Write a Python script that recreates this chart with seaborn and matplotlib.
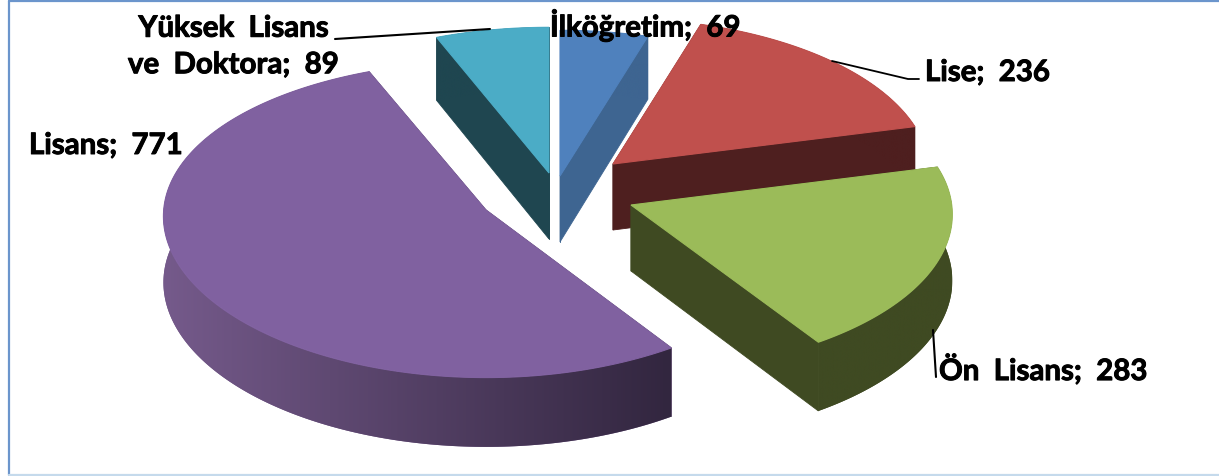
import numpy as np
import pandas as pd
import matplotlib
matplotlib.use("Agg")
import matplotlib.pyplot as plt
import matplotlib.patheffects as pe
from matplotlib.colors import LinearSegmentedColormap
import seaborn as sns

# chart data
categories = ["İlköğretim", "Lise", "Ön Lisans", "Lisans", "Yüksek Lisans\nve Doktora"]
values = [69, 236, 283, 771, 89]

# one row per slice: apex of the exploded slice, top colour, wall colours
df = pd.DataFrame({"category": categories, "value": values})
df["apex_x"] = [560, 613, 631, 486, 549]
df["apex_y"] = [177, 165, 206, 211, 174]
df["scale"] = [1.0, 1.0, 1.015, 1.02, 1.0]
df["persp_x"] = [0.06, 0.06, 0.06, 0.04, 0.06]
df["top"] = ["#4F81BD", "#C0504D", "#9BBB59", "#8061A0", "#4BACC6"]
df["wall_left"] = ["#3E6591", "#4E1F1F", "#3F4A22", "#755A8B", "#1F4650"]
df["wall_right"] = ["#3E6591", "#4E1F1F", "#3F4A22", "#32263F", "#1F4650"]

# start angle of each slice, clockwise from 12 o'clock
df["end"] = df["value"].cumsum() / df["value"].sum() * 2 * np.pi
df["start"] = df["end"].shift(1, fill_value=0.0)

RX, RY, PERSP, DEPTH = 316, 155, 0.06, 66


def project(t, s):
    u, v = np.sin(t), np.cos(t)
    x = s["apex_x"] + RX * u * s["scale"] * (1 - s["persp_x"] * v)
    y = s["apex_y"] - RY * v * s["scale"] * (1 - PERSP * v)
    return x, y


def depth(t):
    return DEPTH * (1 - 0.05 * np.cos(t))


sns.set_theme(style="white")
plt.rcParams["font.family"] = ["Lato", "DejaVu Sans"]
fig, ax = plt.subplots(figsize=(12.19, 4.77), dpi=100)
fig.subplots_adjust(0, 0, 1, 1)

# chart frame
ax.plot([8.5, 8.5], [2, 476], color="#6B95CC", lw=1.6)
ax.plot([8.5, 1219], [2, 2], color="#6B95CC", lw=1.6)
ax.plot([8.5, 1219], [476, 476], color="#C5DAEC", lw=1.6)

# back to front
z = 2
for name in ["Yüksek Lisans\nve Doktora", "İlköğretim", "Lise", "Lisans", "Ön Lisans"]:
    s = df[df["category"] == name].iloc[0]
    t = np.linspace(s["start"], s["end"], 200)
    x, y = project(t, s)
    d = depth(t)
    # radial faces
    for i in [0, -1]:
        ax.fill([s["apex_x"], x[i], x[i], s["apex_x"]],
                [s["apex_y"], y[i], y[i] + d[i], s["apex_y"] + DEPTH],
                color=s["wall_right"], lw=0.6, zorder=z)
    # rim wall, shaded left to right through an image clipped to its outline
    wall = ax.fill(np.r_[x, x[::-1]], np.r_[y, (y + d)[::-1]],
                   color=s["wall_left"], lw=0, zorder=z + 0.1)[0]
    cmap = LinearSegmentedColormap.from_list("wall", [s["wall_left"], s["wall_right"]])
    grad = cmap(np.linspace(0, 1, 256)).reshape(1, 256, 4)
    img = ax.imshow(grad, extent=[x.min(), x.max(), (y + d).max(), y.min()],
                    aspect="auto", zorder=z + 0.2)
    img.set_clip_path(wall)
    ax.fill(np.r_[s["apex_x"], x], np.r_[s["apex_y"], y], color=s["top"], lw=0.8, zorder=z + 0.3)
    z += 1

# leader lines
ax.plot([335, 490], [40, 30], color="black", lw=1.5, zorder=20)
ax.plot([832, 908, 919], [62, 80, 80], color="black", lw=1.3, zorder=20)
ax.plot([933, 936], [331, 378], color="black", lw=1.5, zorder=20)

# labels
label_pos = {
    "İlköğretim": (550, 27, "left"),
    "Lise": (925, 74, "left"),
    "Ön Lisans": (939, 371, "left"),
    "Lisans": (29, 147, "left"),
    "Yüksek Lisans\nve Doktora": (233, 48, "center"),
}
for cat, val in zip(categories, values):
    lx, ly, ha = label_pos[cat]
    ax.text(lx, ly, f"{cat}; {val}".replace(" ", "  "), fontsize=21.2, fontweight="bold",
            color="black", ha=ha, va="center", linespacing=1.5, zorder=21,
            path_effects=[pe.withStroke(linewidth=0.7, foreground="black")])

ax.set_xlim(0, 1219)
ax.set_ylim(477, 0)
ax.axis("off")

fig.savefig("out.png", dpi=100, facecolor="white")
